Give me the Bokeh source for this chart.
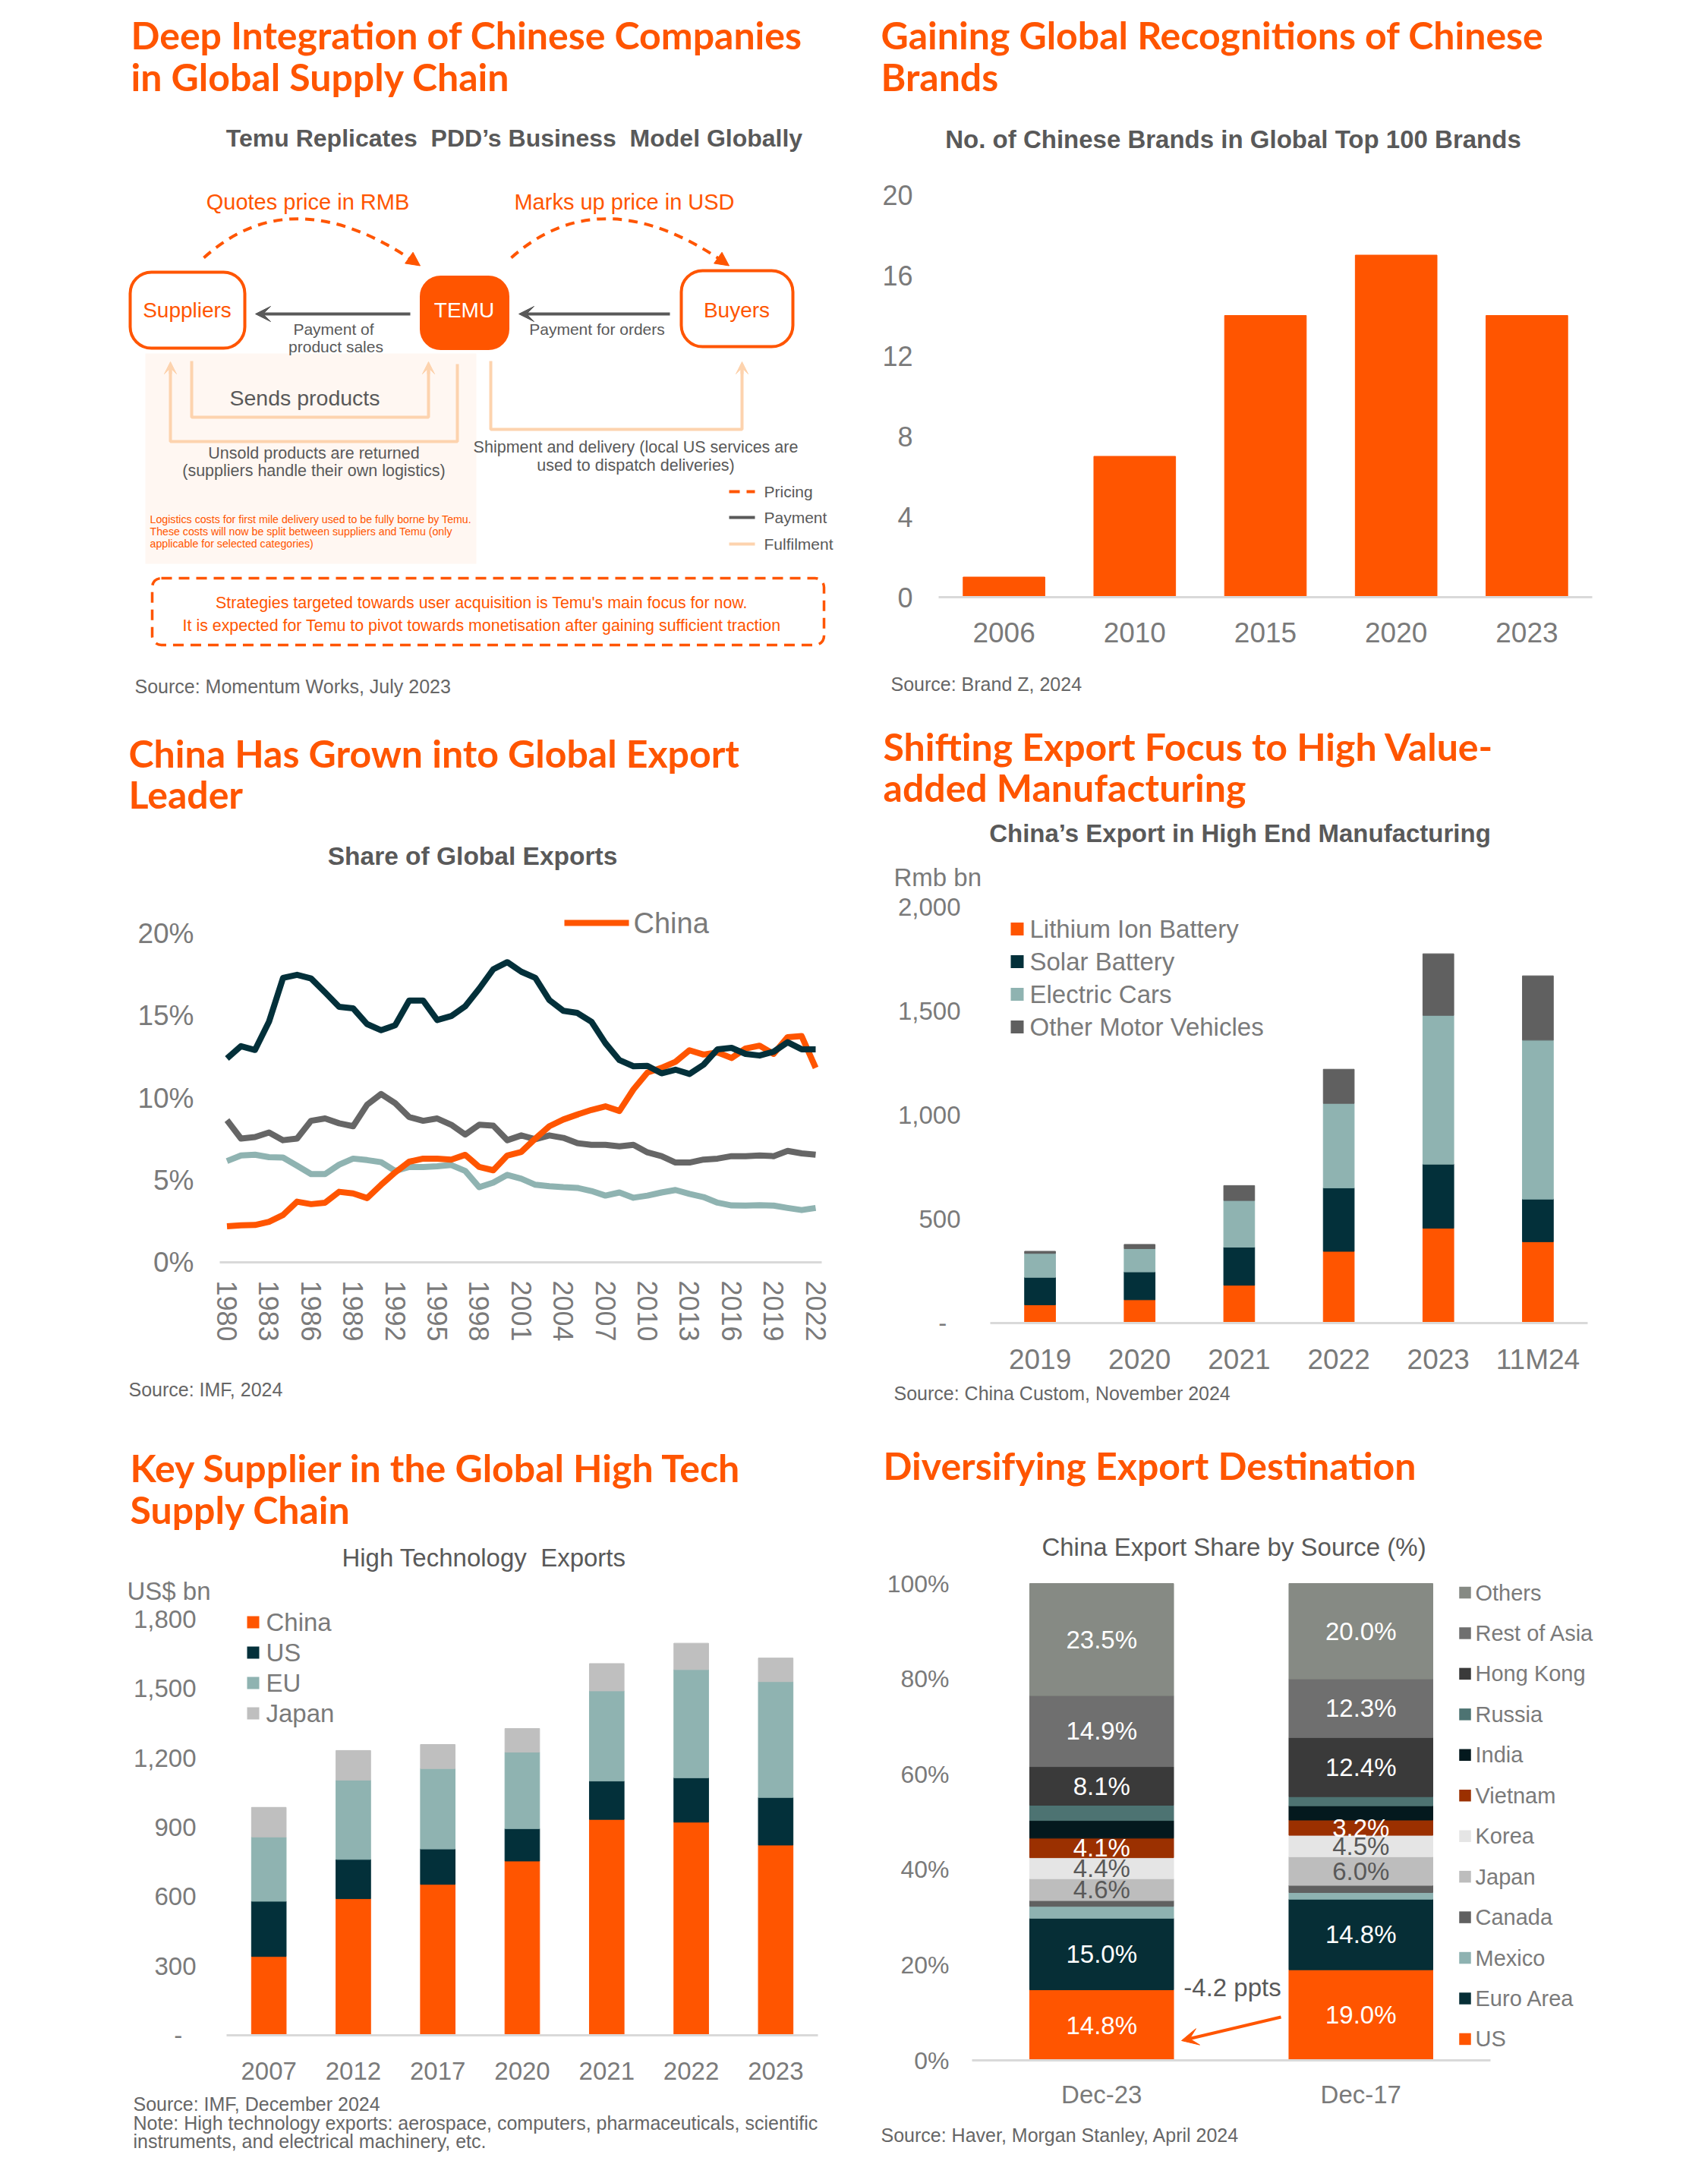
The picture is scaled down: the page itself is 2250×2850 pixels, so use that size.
from bokeh.plotting import figure
from bokeh.models import (Label, LabelSet, ColumnDataSource, Range1d, LinearAxis,
                          FixedTicker, Arrow, VeeHead, NormalHead,
                          PrintfTickFormatter, NumeralTickFormatter)
from bokeh.core.properties import field, value
from bokeh.layouts import column, row
from bokeh.embed import file_html
from bokeh.resources import INLINE

# ---------------- data ----------------
brand_years = ["2006", "2010", "2015", "2020", "2023"]
brand_counts = [1, 7, 14, 17, 14]
brand_yticks = [0, 4, 8, 12, 16, 20]

share_years = list(range(1980, 2023))
share_ticks = list(range(1980, 2023, 3))
share_china = [2.19, 2.25, 2.27, 2.47, 2.88, 3.69, 3.54, 3.63, 4.29, 4.19,
               3.91, 4.72, 5.47, 6.12, 6.31, 6.31, 6.25, 6.54, 5.80, 5.60,
               6.50, 6.72, 7.53, 8.28, 8.69, 8.99, 9.27, 9.49, 9.21, 10.52,
               11.55, 11.83, 12.20, 12.90, 12.64, 12.77, 12.43, 13.01, 13.18, 12.68,
               13.70, 13.76, 11.83]
share_dark = [12.40, 13.15, 12.92, 14.64, 17.30, 17.49, 17.27, 16.42, 15.54, 15.45,
              14.49, 14.12, 14.42, 15.92, 15.92, 14.74, 14.98, 15.58, 16.65, 17.83,
              18.26, 17.68, 17.30, 15.95, 15.30, 15.17, 14.64, 13.33, 12.30, 11.93,
              11.95, 11.50, 11.72, 11.46, 12.02, 12.96, 13.05, 12.68, 12.58, 12.81,
              13.39, 12.96, 12.96]
share_gray = [8.65, 7.53, 7.62, 7.90, 7.43, 7.53, 8.61, 8.75, 8.46, 8.28,
              9.59, 10.24, 9.68, 8.84, 8.61, 8.75, 8.37, 7.77, 8.37, 8.31,
              7.43, 7.72, 7.49, 7.72, 7.57, 7.25, 7.15, 7.15, 7.06, 7.15,
              6.69, 6.46, 6.07, 6.07, 6.25, 6.31, 6.46, 6.46, 6.50, 6.46,
              6.78, 6.63, 6.55]
share_teal = [6.16, 6.50, 6.55, 6.40, 6.37, 5.88, 5.37, 5.37, 5.94, 6.31,
              6.22, 6.09, 5.56, 5.80, 5.80, 5.84, 5.92, 5.56, 4.57, 4.85,
              5.32, 5.09, 4.72, 4.63, 4.57, 4.53, 4.34, 4.06, 4.25, 3.93,
              4.06, 4.25, 4.40, 4.16, 3.97, 3.63, 3.46, 3.45, 3.48, 3.45,
              3.31, 3.18, 3.31]
share_yticks = [0, 5, 10, 15, 20]

hem_years = ["2019", "2020", "2021", "2022", "2023", "11M24"]
hem_names = ["Lithium Ion Battery", "Solar Battery", "Electric Cars", "Other Motor Vehicles"]
hem_lithium = [88, 112, 182, 345, 456, 391]
hem_solar = [132, 134, 183, 305, 308, 205]
hem_ev = [115, 112, 224, 406, 715, 764]
hem_other = [10, 20, 72, 164, 296, 309]
hem_yticks = [0, 500, 1000, 1500, 2000]

ht_years = ["2007", "2012", "2017", "2020", "2021", "2022", "2023"]
ht_names = ["China", "US", "EU", "Japan"]
ht_china = [341, 591, 653, 754, 934, 922, 823]
ht_us = [239, 170, 153, 140, 166, 192, 206]
ht_eu = [278, 343, 348, 331, 390, 468, 501]
ht_japan = [128, 128, 104, 102, 118, 114, 102]
ht_yticks = [0, 300, 600, 900, 1200, 1500, 1800]

periods = ["Dec-23", "Dec-17"]
dest_names = ["US", "Euro Area", "Mexico", "Canada", "Japan", "Korea", "Vietnam",
              "India", "Russia", "Hong Kong", "Rest of Asia", "Others"]
dest_dec23 = [14.8, 15.0, 2.5, 1.2, 4.6, 4.4, 4.1, 3.7, 3.2, 8.1, 14.9, 23.5]
dest_dec17 = [19.0, 14.8, 1.4, 1.5, 6.0, 4.5, 3.2, 3.0, 1.9, 12.4, 12.3, 20.0]
dest_labeled = ["US", "Euro Area", "Japan", "Korea", "Vietnam", "Hong Kong", "Rest of Asia", "Others"]
dest_yticks = [0, 20, 40, 60, 80, 100]

# ---------------- style ----------------
ORANGE = "#FF5500"
DARK = "#03303A"
TEAL = "#8FB3B1"
MIDGRAY = "#606060"
LGRAY = "#BFBFBF"
TXT = "#595959"
TICK = "#7A7A7A"
SRC = "#666666"
AXIS = "#D9D9D9"
PEACH = "#FDD3AE"
PEACH_BG = "#FFF7F2"
SANS = "Liberation Sans"
HEAD = "Lato"
HEAD_SIZE = 50

dest_colors = ["#FF5500", "#062E36", "#8EB2B1", "#606060", "#BDBDBD", "#E5E5E5",
               "#9B3000", "#04191E", "#4D7372", "#3A3A3A", "#6F6F6F", "#868A84"]


class Frame:
    """Maps page pixels to data units for a panel whose plot frame fills the panel."""
    def __init__(self, panel, box, xdata, ydata):
        self.px, self.py, self.pw, self.ph = panel
        cl, ct, cr, cb = box
        cx0, cx1 = xdata
        cy0, cy1 = ydata
        self.sx = (cr - cl) / (cx1 - cx0)
        self.sy = (cb - ct) / (cy1 - cy0)
        self.x0 = cx0 - (cl - self.px) / self.sx
        self.x1 = cx1 + (self.px + self.pw - cr) / self.sx
        self.y0 = cy0 - (self.py + self.ph - cb) / self.sy
        self.y1 = cy1 + (ct - self.py) / self.sy

    def dx(self, xp):
        return self.x0 + (xp - self.px) / self.sx

    def dy(self, yp):
        return self.y0 + (self.py + self.ph - yp) / self.sy


def panel_fig(F):
    p = figure(width=F.pw, height=F.ph, x_range=Range1d(F.x0, F.x1), y_range=Range1d(F.y0, F.y1),
               title=None, toolbar_location=None, output_backend="svg", min_border=0,
               x_axis_location=None, y_axis_location=None)
    p.grid.visible = False
    p.outline_line_color = None
    return p


def T(p, F, xp, yp, text, size, color=TXT, bold=False, align="left", font=SANS):
    p.add_layout(Label(x=F.dx(xp), y=F.dy(yp), text=text, text_font=font,
                       text_font_size=f"{size}px", text_color=color,
                       text_font_style="bold" if bold else "normal",
                       text_align=align, text_baseline="middle"))


def heading(p, F, x, ys, lines):
    for y, line in zip(ys, lines):
        T(p, F, x, y, line, HEAD_SIZE, color=ORANGE, bold=True, font=HEAD)


def add_axes(p, xticks, xbounds, xfs, xst, yloc, yticks, yfs, yst, xover=None, yfmt=None, yover=None,
             xorient="horizontal"):
    xa = LinearAxis(ticker=FixedTicker(ticks=xticks), fixed_location=0, bounds=xbounds)
    ya = LinearAxis(ticker=FixedTicker(ticks=yticks), fixed_location=yloc)
    for a in (xa, ya):
        a.major_tick_line_color = None
        a.minor_tick_line_color = None
        a.major_tick_in = 0
        a.major_tick_out = 0
        a.major_label_text_font = SANS
        a.major_label_text_color = TICK
    xa.axis_line_color = AXIS
    xa.axis_line_width = 3
    ya.axis_line_color = None
    xa.major_label_text_font_size = f"{xfs}px"
    ya.major_label_text_font_size = f"{yfs}px"
    xa.major_label_standoff = xst
    ya.major_label_standoff = yst
    xa.major_label_orientation = xorient
    if xover is not None:
        xa.major_label_overrides = xover
    if yfmt is not None:
        ya.formatter = yfmt
    if yover is not None:
        ya.major_label_overrides = yover
    p.add_layout(xa, "below")
    p.add_layout(ya, "left")


def sq_legend(p, F, names, colors, cx, ys, size, tx, fs):
    p.rect(x=[F.dx(cx)] * len(names), y=[F.dy(y) for y in ys], width=size, height=size,
           width_units="screen", height_units="screen", fill_color=colors, line_color=None)
    for n, y in zip(names, ys):
        T(p, F, tx, y, n, fs, color=TICK)


# ================= TOP LEFT: diagram (page pixel coordinates) =================
F_tl = Frame((0, 0, 1125, 950), (0, 0, 1125, 950), (0, 1125), (950, 0))
D = panel_fig(F_tl)

heading(D, F_tl, 172, [45, 100], ["Deep Integration of Chinese Companies", "in Global Supply Chain"])
T(D, F_tl, 677, 181, "Temu Replicates\u00a0 PDD\u2019s Business\u00a0 Model Globally", 32, bold=True, align="center")

D.quad(left=191, right=627, top=465, bottom=742, fill_color=PEACH_BG, line_color=None)

D.quad(left=171, right=322, top=358, bottom=458, fill_color="white", line_color=ORANGE,
       line_width=4, border_radius=28)
D.quad(left=554, right=669, top=364, bottom=459, fill_color=ORANGE, line_color=ORANGE,
       line_width=3, border_radius=26)
D.quad(left=897, right=1044, top=356, bottom=456, fill_color="white", line_color=ORANGE,
       line_width=4, border_radius=28)
T(D, F_tl, 246, 408, "Suppliers", 28, color=ORANGE, align="center")
T(D, F_tl, 611, 408, "TEMU", 28, color="white", align="center")
T(D, F_tl, 970, 408, "Buyers", 28, color=ORANGE, align="center")

D.quadratic(x0=[268, 673], y0=[339, 339], x1=[551, 958], y1=[348, 348],
            cx=[386, 793], cy=[232, 232], line_color=ORANGE, line_width=4, line_dash="12 9")
for (ex, ey) in [(551, 348), (958, 348)]:
    D.add_layout(Arrow(end=NormalHead(size=18, fill_color=ORANGE, line_color=ORANGE),
                       x_start=ex - 0.818 * 10, y_start=ey - 0.575 * 10, x_end=ex + 2, y_end=ey + 1.5,
                       line_color=ORANGE, line_width=3))
T(D, F_tl, 405, 265, "Quotes price in RMB", 29, color=ORANGE, align="center")
T(D, F_tl, 822, 265, "Marks up price in USD", 29, color=ORANGE, align="center")

for (xs, xe) in [(540, 336), (882, 683)]:
    D.add_layout(Arrow(end=VeeHead(size=20, fill_color=TXT, line_color=TXT),
                       x_start=xs, y_start=413, x_end=xe, y_end=413, line_color=TXT, line_width=4))
T(D, F_tl, 439, 433, "Payment of", 21, align="center")
T(D, F_tl, 442, 456, "product sales", 21, align="center")
T(D, F_tl, 786, 433, "Payment for orders", 21, align="center")

D.line([252, 252, 564, 564], [475, 549, 549, 485], line_color=PEACH, line_width=4)
D.line([602, 602, 224, 224], [479, 581, 581, 485], line_color=PEACH, line_width=4)
D.line([646, 646, 977, 977], [475, 565, 565, 485], line_color=PEACH, line_width=4)
for x in [564, 224, 977]:
    D.add_layout(Arrow(end=VeeHead(size=16, fill_color=PEACH, line_color=PEACH),
                       x_start=x, y_start=492, x_end=x, y_end=476, line_color=PEACH, line_width=4))
T(D, F_tl, 401, 523, "Sends products", 28.5, align="center")
T(D, F_tl, 413, 596, "Unsold products are returned", 21.5, align="center")
T(D, F_tl, 413, 619, "(suppliers handle their own logistics)", 21.5, align="center")
T(D, F_tl, 837, 588, "Shipment and delivery (local US services are", 21.5, align="center")
T(D, F_tl, 837, 612, "used to dispatch deliveries)", 21.5, align="center")

T(D, F_tl, 197, 683, "Logistics costs for first mile delivery used to be fully borne by Temu.", 14.2, color=ORANGE)
T(D, F_tl, 197, 699, "These costs will now be split between suppliers and Temu (only", 14.2, color=ORANGE)
T(D, F_tl, 197, 715, "applicable for selected categories)", 14.2, color=ORANGE)

D.line([960, 994], [647, 647], line_color=ORANGE, line_width=4, line_dash="14 9")
D.line([960, 994], [681, 681], line_color=TXT, line_width=4)
D.line([960, 994], [716, 716], line_color=PEACH, line_width=4)
T(D, F_tl, 1006, 647, "Pricing", 21)
T(D, F_tl, 1006, 681, "Payment", 21)
T(D, F_tl, 1006, 716, "Fulfilment", 21)

D.quad(left=200, right=1085, top=761, bottom=849, fill_color=None, line_color=ORANGE,
       line_width=3.5, line_dash="14 9", border_radius=12)
T(D, F_tl, 634, 793, "Strategies targeted towards user acquisition is Temu's main focus for now.", 21.4,
  color=ORANGE, align="center")
T(D, F_tl, 634, 823, "It is expected for Temu to pivot towards monetisation after gaining sufficient traction", 21.4,
  color=ORANGE, align="center")
T(D, F_tl, 177, 903, "Source: Momentum Works, July 2023", 25, color=SRC)

# ================= TOP RIGHT: brands =================
nb = len(brand_years)
F_tr = Frame((1125, 0, 1125, 950), (1236, 256, 2097, 786), (-0.5, nb - 0.5), (0, 20))
p_tr = panel_fig(F_tr)
bx = list(range(nb))
p_tr.vbar(x=bx, top=brand_counts, width=0.625, color=ORANGE)
add_axes(p_tr, bx, (-0.5, nb - 0.5), 37, 33, -0.5, brand_yticks, 36, 34,
         xover={i: y for i, y in zip(bx, brand_years)})
heading(p_tr, F_tr, 1160, [45, 100], ["Gaining Global Recognitions of Chinese", "Brands"])
T(p_tr, F_tr, 1624, 183, "No. of Chinese Brands in Global Top 100 Brands", 33, bold=True, align="center")
T(p_tr, F_tr, 1173, 900, "Source: Brand Z, 2024", 25, color=SRC)

# ================= MIDDLE LEFT: share of global exports =================
F_ml = Frame((0, 950, 1125, 930), (298.5, 1229, 1074, 1662), (1980, 2022), (0, 20))
p_ml = panel_fig(F_ml)
p_ml.line(share_years, share_teal, line_width=8, color=TEAL, line_join="round")
p_ml.line(share_years, share_gray, line_width=8, color="#666666", line_join="round")
p_ml.line(share_years, share_china, line_width=8, color=ORANGE, line_join="round")
p_ml.line(share_years, share_dark, line_width=8, color=DARK, line_join="round")
add_axes(p_ml, share_ticks, (F_ml.dx(289), F_ml.dx(1082)), 36, 24, F_ml.dx(289), share_yticks, 37, 34,
         yfmt=PrintfTickFormatter(format="%d%%"), xorient="vertical")
p_ml.line([F_ml.dx(743), F_ml.dx(828)], [F_ml.dy(1215)] * 2, line_width=8, color=ORANGE)
T(p_ml, F_ml, 834, 1215, "China", 38, color=TICK)
heading(p_ml, F_ml, 169, [991, 1045], ["China Has Grown into Global Export", "Leader"])
T(p_ml, F_ml, 622, 1127, "Share of Global Exports", 33.5, bold=True, align="center")
T(p_ml, F_ml, 169, 1829, "Source: IMF, 2024", 25, color=SRC)

# ================= MIDDLE RIGHT: high-end manufacturing =================
nh = len(hem_years)
F_mr = Frame((1125, 950, 1125, 930), (1304, 1194, 2091, 1742), (-0.5, nh - 0.5), (0, 2000))
p_mr = panel_fig(F_mr)
hx = list(range(nh))
src_mr = ColumnDataSource({"x": hx, hem_names[0]: hem_lithium, hem_names[1]: hem_solar,
                           hem_names[2]: hem_ev, hem_names[3]: hem_other})
hem_colors = [ORANGE, DARK, TEAL, MIDGRAY]
p_mr.vbar_stack(hem_names, x="x", width=0.31, color=hem_colors, source=src_mr)
add_axes(p_mr, hx, (-0.5, nh - 0.5), 37, 27, -0.5, hem_yticks, 33, 39,
         xover={i: y for i, y in zip(hx, hem_years)},
         yfmt=NumeralTickFormatter(format="0,0"), yover={0: "-\u00a0\u00a0"})
sq_legend(p_mr, F_mr, hem_names, hem_colors, 1339.5, [1223 + 43 * i for i in range(4)], 17, 1356, 33)
heading(p_mr, F_mr, 1163, [982, 1036], ["Shifting Export Focus to High Value-", "added Manufacturing"])
T(p_mr, F_mr, 1633, 1097, "China\u2019s Export in High End Manufacturing", 33, bold=True, align="center")
T(p_mr, F_mr, 1177, 1155, "Rmb bn", 33, color=TICK)
T(p_mr, F_mr, 1177, 1834, "Source: China Custom, November 2024", 25, color=SRC)

# ================= BOTTOM LEFT: high technology exports =================
nt = len(ht_years)
F_bl = Frame((0, 1880, 1125, 970), (298, 2132, 1077, 2680), (-0.5, nt - 0.5), (0, 1800))
p_bl = panel_fig(F_bl)
tx = list(range(nt))
src_bl = ColumnDataSource({"x": tx, "China": ht_china, "US": ht_us, "EU": ht_eu, "Japan": ht_japan})
ht_colors = [ORANGE, DARK, TEAL, LGRAY]
p_bl.vbar_stack(ht_names, x="x", width=0.41, color=ht_colors, source=src_bl)
add_axes(p_bl, tx, (-0.5, nt - 0.5), 33, 35, -0.5, ht_yticks, 33, 40,
         xover={i: y for i, y in zip(tx, ht_years)},
         yfmt=NumeralTickFormatter(format="0,0"), yover={0: "-\u00a0\u00a0"})
sq_legend(p_bl, F_bl, ht_names, ht_colors, 333, [2136, 2176, 2216, 2256], 16, 350, 33)
heading(p_bl, F_bl, 171, [1932, 1987], ["Key Supplier in the Global High Tech", "Supply Chain"])
T(p_bl, F_bl, 637, 2051, "High Technology\u00a0 Exports", 33, align="center")
T(p_bl, F_bl, 167, 2095, "US$ bn", 33, color=TICK)
T(p_bl, F_bl, 175, 2770, "Source: IMF, December 2024", 25, color=SRC)
T(p_bl, F_bl, 175, 2795, "Note: High technology exports: aerospace, computers, pharmaceuticals, scientific", 25, color=SRC)
T(p_bl, F_bl, 175, 2819, "instruments, and electrical machinery, etc.", 25, color=SRC)

# ================= BOTTOM RIGHT: export destination =================
npd = len(periods)
F_br = Frame((1125, 1880, 1125, 970), (1280, 2085, 1963, 2713), (-0.5, npd - 0.5), (0, 100))
p_br = panel_fig(F_br)
px_ = list(range(npd))
br_data = {"x": px_}
for i, n in enumerate(dest_names):
    br_data[n] = [dest_dec23[i], dest_dec17[i]]
p_br.vbar_stack(dest_names, x="x", width=0.555, color=dest_colors, source=ColumnDataSource(br_data))
add_axes(p_br, px_, (-0.5, npd - 0.5), 33, 26, -0.5, dest_yticks, 32, 30,
         xover={i: y for i, y in zip(px_, periods)}, yfmt=PrintfTickFormatter(format="%d%%"))

lbl = {"x": [], "y": [], "t": [], "c": []}
for xi, vals in zip(px_, [dest_dec23, dest_dec17]):
    base = 0.0
    for n, v in zip(dest_names, vals):
        if n in dest_labeled:
            lbl["x"].append(xi)
            lbl["y"].append(base + v / 2)
            lbl["t"].append(f"{v:.1f}%")
            lbl["c"].append(TXT if n in ("Japan", "Korea") else "white")
        base += v
p_br.add_layout(LabelSet(x="x", y="y", text="t", source=ColumnDataSource(lbl), text_color=field("c"),
                         text_font=value(SANS), text_font_size=value("33px"), text_align="center",
                         text_baseline="middle"))
sq_legend(p_br, F_br, dest_names[::-1], dest_colors[::-1], 1929.5,
          [2097 + 53.45 * i for i in range(len(dest_names))], 15.5, 1943, 29)
diff = dest_dec23[0] - dest_dec17[0]
T(p_br, F_br, 1623, 2617, f"{diff:.1f} ppts", 33, color=TXT, align="center")
p_br.add_layout(Arrow(end=VeeHead(size=22, fill_color=ORANGE, line_color=ORANGE),
                      x_start=F_br.dx(1687), y_start=F_br.dy(2656),
                      x_end=F_br.dx(1556), y_end=F_br.dy(2687), line_color=ORANGE, line_width=4))
heading(p_br, F_br, 1163, [1929], ["Diversifying Export Destination"])
T(p_br, F_br, 1625, 2037, "China Export Share by Source (%)", 33, align="center")
T(p_br, F_br, 1160, 2811, "Source: Haver, Morgan Stanley, April 2024", 25, color=SRC)

layout = column(row(D, p_tr), row(p_ml, p_mr), row(p_bl, p_br))
open("out.html", "w").write(file_html(layout, INLINE))
